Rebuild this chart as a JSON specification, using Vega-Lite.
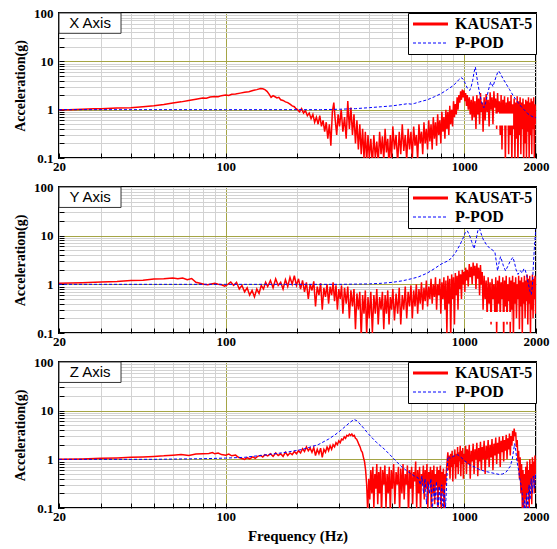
{
"$schema":"https://vega.github.io/schema/vega-lite/v6.json",
"background":"white",
"padding":{"left":12,"top":6,"right":6,"bottom":4},
"spacing":6,
"config":{
 "view":{"stroke":"black","strokeWidth":2},
 "axis":{"domain":false,"labelFont":"Liberation Serif, Times New Roman, serif","labelFontWeight":"bold","labelFontSize":13,"labelColor":"black","titleFont":"Liberation Serif, Times New Roman, serif","titleFontWeight":"bold","titleColor":"black","tickColor":"black","tickSize":-5,"gridWidth":1,"labelOverlap":false,"labelFlush":false},
 "axisX":{"labelPadding":7},
 "axisY":{"labelPadding":11,"titlePadding":6},
 "legend":{"orient":"top-right","offset":0,"fillColor":"white","strokeColor":"black","padding":3,"labelFont":"Liberation Serif, Times New Roman, serif","labelFontWeight":"bold","labelFontSize":16,"labelColor":"black","symbolType":"M-1,0H4.83","symbolSize":144,"symbolStrokeWidth":2,"labelOffset":28,"rowPadding":3}
},
"datasets":{
"xk":[{"f":20,"a":1.0},{"f":22,"a":1.0},{"f":25,"a":1.02},{"f":28,"a":1.04},{"f":30,"a":1.05},{"f":35,"a":1.08},{"f":40,"a":1.1},{"f":45,"a":1.15},{"f":50,"a":1.2},{"f":55,"a":1.28},{"f":60,"a":1.38},{"f":65,"a":1.45},{"f":70,"a":1.55},{"f":75,"a":1.65},{"f":80,"a":1.75},{"f":83,"a":1.72},{"f":86,"a":1.82},{"f":90,"a":1.88},{"f":93,"a":1.85},{"f":96,"a":1.95},{"f":100,"a":2.0},{"f":103,"a":1.97},{"f":106,"a":2.08},{"f":110,"a":2.1},{"f":115,"a":2.2},{"f":120,"a":2.3},{"f":125,"a":2.35},{"f":130,"a":2.5},{"f":135,"a":2.6},{"f":140,"a":2.75},{"f":143,"a":2.7},{"f":146,"a":2.6},{"f":149,"a":2.4},{"f":152,"a":2.1},{"f":155,"a":1.8},{"f":158,"a":1.95},{"f":161,"a":1.85},{"f":164,"a":1.75},{"f":167,"a":1.8},{"f":170,"a":1.6},{"f":174,"a":1.55},{"f":178,"a":1.45},{"f":182,"a":1.4},{"f":186,"a":1.3},{"f":190,"a":1.2},{"f":194,"a":1.15},{"f":197,"a":1.05},
{"f":200,"a":1.0},{"f":204,"a":0.9},{"f":208,"a":1.05},{"f":212,"a":0.85},{"f":216,"a":0.95},{"f":220,"a":0.75},{"f":224,"a":0.85},{"f":228,"a":0.65},{"f":232,"a":0.8},{"f":236,"a":0.55},{"f":240,"a":0.7},{"f":244,"a":0.5},{"f":248,"a":0.75},{"f":252,"a":0.45},{"f":256,"a":0.6},{"f":260,"a":0.35},{"f":264,"a":0.55},{"f":268,"a":0.25},{"f":272,"a":0.5},{"f":276,"a":0.18},{"f":280,"a":0.9},{"f":284,"a":1.4},{"f":288,"a":0.6},{"f":292,"a":0.3},{"f":296,"a":0.8},{"f":300,"a":0.45},{"f":305,"a":1.0},{"f":310,"a":0.35},{"f":315,"a":0.7},{"f":320,"a":0.25},{"f":325,"a":1.5},{"f":330,"a":0.4},{"f":335,"a":1.1},{"f":340,"a":0.3},{"f":345,"a":0.8},{"f":350,"a":0.2},{"f":355,"a":0.6},{"f":360,"a":0.15},{"f":365,"a":0.5},{"f":370,"a":0.12},{"f":375,"a":0.4},{"f":380,"a":0.1},{"f":385,"a":0.35},{"f":390,"a":0.08},{"f":395,"a":0.3},{"f":400,"a":0.1},{"f":406,"a":0.25},{"f":412,"a":0.07},{"f":418,"a":0.3},{"f":424,"a":0.1},{"f":430,"a":0.22},{"f":436,"a":0.08},{"f":442,"a":0.35},{"f":448,"a":0.12},{"f":454,"a":0.28},{"f":460,"a":0.09},{"f":466,"a":0.4},{"f":472,"a":0.13},{"f":478,"a":0.25},{"f":484,"a":0.07},{"f":490,"a":0.3},{"f":496,"a":0.1},{"f":502,"a":0.45},{"f":510,"a":0.15},{"f":518,"a":0.3},{"f":526,"a":0.08},{"f":534,"a":0.35},{"f":542,"a":0.12},{"f":550,"a":0.5},{"f":558,"a":0.14},{"f":566,"a":0.3},{"f":574,"a":0.09},{"f":582,"a":0.4},{"f":590,"a":0.15},{"f":598,"a":0.35},{"f":606,"a":0.1},{"f":614,"a":0.45},{"f":622,"a":0.18},{"f":630,"a":0.3},{"f":638,"a":0.09},{"f":646,"a":0.5},{"f":654,"a":0.2},{"f":662,"a":0.35},{"f":670,"a":0.12},{"f":678,"a":0.55},{"f":686,"a":0.2},{"f":694,"a":0.4},{"f":702,"a":0.15},{"f":710,"a":0.6},{"f":718,"a":0.22},{"f":726,"a":0.5},{"f":734,"a":0.15},{"f":742,"a":0.7},{"f":750,"a":0.25},{"f":758,"a":0.55},{"f":766,"a":0.18},{"f":774,"a":0.8},{"f":782,"a":0.3},{"f":790,"a":0.6},{"f":798,"a":0.2},{"f":806,"a":0.9},{"f":814,"a":0.35},{"f":822,"a":0.7},{"f":830,"a":0.25},{"f":838,"a":1.0},{"f":846,"a":0.4},{"f":854,"a":0.9},{"f":862,"a":0.3},{"f":870,"a":1.2},{"f":878,"a":0.5},{"f":886,"a":1.0},{"f":894,"a":0.45},{"f":902,"a":1.5},{"f":910,"a":0.7},{"f":918,"a":1.3},{"f":926,"a":0.8},{"f":934,"a":1.8},{"f":942,"a":1.0},{"f":950,"a":2.0},{"f":958,"a":1.4},{"f":966,"a":2.4},{"f":974,"a":1.6},{"f":982,"a":2.6},{"f":990,"a":1.8},{"f":998,"a":2.5},{"f":1006,"a":1.5},{"f":1014,"a":2.2},{"f":1022,"a":1.2},{"f":1030,"a":2.0},{"f":1040,"a":1.0},{"f":1050,"a":1.8},{"f":1060,"a":0.8},{"f":1070,"a":1.6},{"f":1080,"a":0.6},{"f":1090,"a":1.9},{"f":1100,"a":0.7},{"f":1110,"a":1.5},{"f":1120,"a":0.4},{"f":1130,"a":2.0},{"f":1140,"a":0.8},{"f":1150,"a":1.7},{"f":1160,"a":0.5},{"f":1170,"a":2.2},{"f":1180,"a":0.9},{"f":1190,"a":1.4},{"f":1200,"a":0.35},{"f":1212,"a":1.8},{"f":1224,"a":0.6},{"f":1236,"a":2.1},{"f":1248,"a":0.9},{"f":1260,"a":1.6},{"f":1272,"a":0.45},{"f":1284,"a":2.3},{"f":1296,"a":1.0},{"f":1308,"a":1.8},{"f":1320,"a":0.5},{"f":1332,"a":2.4},{"f":1344,"a":1.1},{"f":1356,"a":1.7},{"f":1368,"a":0.4},{"f":1380,"a":2.2},{"f":1392,"a":0.9},{"f":1404,"a":1.5},{"f":1416,"a":0.3},{"f":1428,"a":2.0},{"f":1440,"a":0.15},{"f":1452,"a":1.6},{"f":1464,"a":0.6},{"f":1476,"a":1.9},{"f":1488,"a":0.08},{"f":1500,"a":1.4},{"f":1512,"a":0.5},{"f":1524,"a":1.8},{"f":1536,"a":0.12},{"f":1548,"a":1.5},{"f":1560,"a":0.3},{"f":1572,"a":2.0},{"f":1584,"a":0.08},{"f":1596,"a":1.3},{"f":1608,"a":0.4},{"f":1620,"a":1.7},{"f":1632,"a":0.1},{"f":1644,"a":1.4},{"f":1656,"a":0.25},{"f":1668,"a":1.9},{"f":1680,"a":0.07},{"f":1692,"a":1.5},{"f":1704,"a":0.3},{"f":1716,"a":1.8},{"f":1728,"a":0.12},{"f":1740,"a":1.4},{"f":1752,"a":0.4},{"f":1764,"a":1.7},{"f":1776,"a":0.08},{"f":1788,"a":1.3},{"f":1800,"a":0.2},{"f":1812,"a":1.6},{"f":1824,"a":0.1},{"f":1836,"a":1.5},{"f":1848,"a":0.35},{"f":1860,"a":1.8},{"f":1872,"a":0.09},{"f":1884,"a":1.4},{"f":1896,"a":0.3},{"f":1908,"a":1.7},{"f":1920,"a":0.12},{"f":1932,"a":1.5},{"f":1944,"a":0.4},{"f":1956,"a":1.8},{"f":1968,"a":0.1},{"f":1980,"a":1.3},{"f":1992,"a":0.5},{"f":2000,"a":1.2}],
"xp":[{"f":20,"a":1.0},{"f":50,"a":1.0},{"f":100,"a":1.0},{"f":150,"a":1.0},{"f":200,"a":1.0},{"f":250,"a":1.0},{"f":300,"a":1.02},{"f":350,"a":1.05},{"f":400,"a":1.1},{"f":450,"a":1.15},{"f":500,"a":1.2},{"f":550,"a":1.28},{"f":580,"a":1.33},{"f":600,"a":1.3},{"f":620,"a":1.35},{"f":650,"a":1.45},{"f":700,"a":1.6},{"f":750,"a":1.85},{"f":800,"a":2.15},{"f":850,"a":2.6},{"f":900,"a":3.16},{"f":930,"a":3.7},{"f":950,"a":4.2},{"f":970,"a":4.6},{"f":990,"a":4.3},{"f":1010,"a":3.5},{"f":1030,"a":2.8},{"f":1055,"a":2.5},{"f":1070,"a":3.0},{"f":1085,"a":4.0},{"f":1100,"a":6.0},{"f":1114,"a":7.6},{"f":1125,"a":5.5},{"f":1140,"a":3.5},{"f":1160,"a":2.2},{"f":1180,"a":1.5},{"f":1200,"a":1.15},{"f":1211,"a":1.1},{"f":1230,"a":1.4},{"f":1250,"a":2.0},{"f":1270,"a":2.8},{"f":1290,"a":3.7},{"f":1300,"a":3.5},{"f":1320,"a":3.0},{"f":1340,"a":3.8},{"f":1360,"a":4.8},{"f":1380,"a":5.8},{"f":1396,"a":6.3},{"f":1420,"a":5.5},{"f":1450,"a":4.5},{"f":1500,"a":3.4},{"f":1550,"a":2.6},{"f":1600,"a":2.0},{"f":1650,"a":1.6},{"f":1700,"a":1.3},{"f":1750,"a":1.1},{"f":1800,"a":0.95},{"f":1850,"a":0.82},{"f":1900,"a":0.75},{"f":1950,"a":0.7},{"f":2000,"a":0.68}],
"yk":[{"f":20,"a":1.05},{"f":25,"a":1.08},{"f":30,"a":1.12},{"f":35,"a":1.15},{"f":40,"a":1.2},{"f":45,"a":1.22},{"f":50,"a":1.28},{"f":55,"a":1.3},{"f":60,"a":1.35},{"f":63,"a":1.3},{"f":66,"a":1.35},{"f":69,"a":1.25},{"f":72,"a":1.32},{"f":75,"a":1.1},{"f":78,"a":1.05},{"f":81,"a":1.0},{"f":84,"a":0.98},{"f":87,"a":1.02},{"f":90,"a":1.05},{"f":93,"a":1.0},{"f":96,"a":0.98},{"f":99,"a":0.92},{"f":102,"a":1.0},{"f":105,"a":1.12},{"f":108,"a":0.95},{"f":111,"a":1.1},{"f":114,"a":0.8},{"f":117,"a":0.95},{"f":120,"a":0.7},{"f":123,"a":0.85},{"f":126,"a":0.6},{"f":129,"a":0.75},{"f":132,"a":0.55},{"f":135,"a":0.8},{"f":138,"a":0.65},{"f":141,"a":0.95},{"f":144,"a":0.8},{"f":147,"a":1.1},
{"f":150,"a":0.9},{"f":154,"a":1.2},{"f":158,"a":0.85},{"f":162,"a":1.3},{"f":166,"a":0.95},{"f":170,"a":1.1},{"f":174,"a":0.8},{"f":178,"a":1.25},{"f":182,"a":0.9},{"f":186,"a":1.4},{"f":190,"a":1.0},{"f":194,"a":1.5},{"f":198,"a":0.95},{"f":202,"a":1.3},{"f":206,"a":0.8},{"f":210,"a":1.2},{"f":214,"a":0.7},{"f":218,"a":1.1},{"f":222,"a":0.5},{"f":226,"a":1.0},{"f":230,"a":0.75},{"f":234,"a":1.15},{"f":238,"a":0.35},{"f":242,"a":0.9},{"f":246,"a":0.6},{"f":250,"a":1.05},{"f":254,"a":0.3},{"f":258,"a":0.85},{"f":262,"a":0.55},{"f":266,"a":1.0},{"f":270,"a":0.4},{"f":274,"a":0.9},{"f":278,"a":0.6},{"f":282,"a":1.1},{"f":286,"a":0.45},{"f":290,"a":0.95},{"f":294,"a":0.3},{"f":298,"a":0.8},{"f":302,"a":0.5},{"f":306,"a":0.95},{"f":310,"a":0.25},{"f":315,"a":0.85},{"f":320,"a":0.4},{"f":325,"a":0.9},{"f":330,"a":0.2},{"f":335,"a":0.75},{"f":340,"a":0.35},{"f":345,"a":0.8},{"f":350,"a":0.12},{"f":355,"a":0.65},{"f":360,"a":0.3},{"f":365,"a":0.7},{"f":370,"a":0.08},{"f":375,"a":0.6},{"f":380,"a":0.25},{"f":385,"a":0.75},{"f":390,"a":0.09},{"f":395,"a":0.55},{"f":400,"a":0.2},{"f":406,"a":0.7},{"f":412,"a":0.1},{"f":418,"a":0.6},{"f":424,"a":0.25},{"f":430,"a":0.8},{"f":436,"a":0.15},{"f":442,"a":0.55},{"f":448,"a":0.3},{"f":454,"a":0.7},{"f":460,"a":0.12},{"f":466,"a":0.6},{"f":472,"a":0.25},{"f":478,"a":0.75},{"f":484,"a":0.15},{"f":490,"a":0.55},{"f":496,"a":0.3},{"f":502,"a":0.8},{"f":510,"a":0.18},{"f":518,"a":0.65},{"f":526,"a":0.25},{"f":534,"a":0.85},{"f":542,"a":0.15},{"f":550,"a":0.6},{"f":558,"a":0.3},{"f":566,"a":0.9},{"f":574,"a":0.2},{"f":582,"a":0.7},{"f":590,"a":0.35},{"f":598,"a":0.95},{"f":606,"a":0.2},{"f":614,"a":0.75},{"f":622,"a":0.35},{"f":630,"a":1.0},{"f":638,"a":0.25},{"f":646,"a":0.8},{"f":654,"a":0.4},{"f":662,"a":1.1},{"f":670,"a":0.3},{"f":678,"a":0.85},{"f":686,"a":0.45},{"f":694,"a":1.2},{"f":702,"a":0.35},{"f":710,"a":0.9},{"f":718,"a":0.5},{"f":726,"a":1.3},{"f":734,"a":0.4},{"f":742,"a":1.0},{"f":750,"a":0.55},{"f":758,"a":1.4},{"f":766,"a":0.3},{"f":774,"a":1.0},{"f":782,"a":0.6},{"f":790,"a":1.3},{"f":798,"a":0.25},{"f":806,"a":1.1},{"f":814,"a":0.5},{"f":822,"a":1.4},{"f":830,"a":0.3},{"f":838,"a":1.2},{"f":846,"a":0.1},{"f":854,"a":1.5},{"f":862,"a":0.4},{"f":870,"a":1.3},{"f":878,"a":0.08},{"f":886,"a":1.6},{"f":894,"a":0.5},{"f":902,"a":1.4},{"f":910,"a":0.15},{"f":918,"a":1.7},{"f":926,"a":0.6},{"f":934,"a":1.5},{"f":942,"a":0.3},{"f":950,"a":1.9},{"f":958,"a":0.8},{"f":966,"a":1.6},{"f":974,"a":0.5},{"f":982,"a":2.0},{"f":990,"a":1.0},{"f":998,"a":1.8},{"f":1006,"a":0.7},{"f":1014,"a":2.2},{"f":1022,"a":1.2},{"f":1030,"a":2.0},{"f":1040,"a":0.9},{"f":1050,"a":2.6},{"f":1060,"a":1.4},{"f":1070,"a":2.3},{"f":1080,"a":1.0},{"f":1090,"a":2.8},{"f":1100,"a":1.5},{"f":1110,"a":2.4},{"f":1120,"a":0.8},{"f":1130,"a":2.7},{"f":1140,"a":1.3},{"f":1150,"a":2.2},{"f":1160,"a":0.6},{"f":1170,"a":2.5},{"f":1180,"a":1.0},{"f":1190,"a":1.8},{"f":1200,"a":0.3},{"f":1212,"a":1.5},{"f":1224,"a":0.5},{"f":1236,"a":1.2},{"f":1248,"a":0.2},{"f":1260,"a":1.4},{"f":1272,"a":0.4},{"f":1284,"a":1.1},{"f":1296,"a":0.15},{"f":1308,"a":1.3},{"f":1320,"a":0.5},{"f":1332,"a":1.0},{"f":1344,"a":0.25},{"f":1356,"a":1.4},{"f":1368,"a":0.1},{"f":1380,"a":1.2},{"f":1392,"a":0.4},{"f":1404,"a":1.5},{"f":1416,"a":0.2},{"f":1428,"a":1.1},{"f":1440,"a":0.5},{"f":1452,"a":1.4},{"f":1464,"a":0.08},{"f":1476,"a":1.2},{"f":1488,"a":0.35},{"f":1500,"a":1.5},{"f":1512,"a":0.15},{"f":1524,"a":1.0},{"f":1536,"a":0.45},{"f":1548,"a":1.4},{"f":1560,"a":0.1},{"f":1572,"a":1.2},{"f":1584,"a":0.3},{"f":1596,"a":1.5},{"f":1608,"a":0.08},{"f":1620,"a":1.1},{"f":1632,"a":0.4},{"f":1644,"a":1.4},{"f":1656,"a":0.2},{"f":1668,"a":1.0},{"f":1680,"a":0.5},{"f":1692,"a":1.5},{"f":1704,"a":0.12},{"f":1716,"a":1.2},{"f":1728,"a":0.35},{"f":1740,"a":1.4},{"f":1752,"a":0.09},{"f":1764,"a":1.1},{"f":1776,"a":0.4},{"f":1788,"a":1.5},{"f":1800,"a":0.2},{"f":1812,"a":1.2},{"f":1824,"a":0.45},{"f":1836,"a":1.6},{"f":1848,"a":0.15},{"f":1860,"a":1.3},{"f":1872,"a":0.4},{"f":1884,"a":1.5},{"f":1896,"a":0.1},{"f":1908,"a":1.2},{"f":1920,"a":0.3},{"f":1932,"a":1.6},{"f":1944,"a":0.2},{"f":1956,"a":1.3},{"f":1968,"a":0.5},{"f":1980,"a":1.5},{"f":1992,"a":0.25},{"f":2000,"a":1.4}],
"yp":[{"f":20,"a":1.0},{"f":100,"a":1.0},{"f":200,"a":1.0},{"f":300,"a":1.0},{"f":400,"a":1.02},{"f":450,"a":1.05},{"f":500,"a":1.1},{"f":550,"a":1.18},{"f":600,"a":1.3},{"f":640,"a":1.41},{"f":700,"a":1.7},{"f":750,"a":2.1},{"f":800,"a":2.6},{"f":850,"a":3.0},{"f":881,"a":3.4},{"f":920,"a":4.5},{"f":960,"a":6.5},{"f":990,"a":9.0},{"f":1010,"a":11.5},{"f":1030,"a":12.6},{"f":1050,"a":10.5},{"f":1075,"a":7.5},{"f":1100,"a":5.4},{"f":1120,"a":8.0},{"f":1140,"a":12.5},{"f":1154,"a":16},{"f":1170,"a":12},{"f":1200,"a":8.5},{"f":1240,"a":6.5},{"f":1280,"a":5.5},{"f":1320,"a":5.0},{"f":1345,"a":4.6},{"f":1365,"a":2.8},{"f":1380,"a":1.9},{"f":1400,"a":2.8},{"f":1420,"a":3.7},{"f":1440,"a":3.0},{"f":1460,"a":2.4},{"f":1490,"a":1.9},{"f":1520,"a":2.3},{"f":1560,"a":3.0},{"f":1600,"a":3.6},{"f":1625,"a":2.8},{"f":1650,"a":2.0},{"f":1680,"a":1.6},{"f":1720,"a":1.9},{"f":1750,"a":1.7},{"f":1780,"a":2.1},{"f":1800,"a":2.0},{"f":1830,"a":1.5},{"f":1860,"a":1.0},{"f":1890,"a":0.7},{"f":1910,"a":0.62},{"f":1930,"a":0.9},{"f":1950,"a":2.5},{"f":1970,"a":6.0},{"f":1990,"a":11},{"f":2000,"a":14}],
"zk":[{"f":20,"a":1.0},{"f":25,"a":1.02},{"f":30,"a":1.05},{"f":35,"a":1.07},{"f":40,"a":1.1},{"f":45,"a":1.12},{"f":50,"a":1.15},{"f":55,"a":1.18},{"f":60,"a":1.22},{"f":65,"a":1.25},{"f":70,"a":1.2},{"f":75,"a":1.28},{"f":80,"a":1.3},{"f":85,"a":1.32},{"f":88,"a":1.38},{"f":90,"a":1.3},{"f":93,"a":1.35},{"f":96,"a":1.25},{"f":100,"a":1.22},{"f":103,"a":1.28},{"f":106,"a":1.18},{"f":110,"a":1.22},{"f":113,"a":1.1},{"f":116,"a":1.05},{"f":120,"a":1.0},{"f":123,"a":1.08},{"f":126,"a":1.02},{"f":130,"a":1.12},{"f":133,"a":1.05},{"f":136,"a":1.15},{"f":140,"a":1.2},{"f":143,"a":1.12},{"f":146,"a":1.25},
{"f":150,"a":1.18},{"f":154,"a":1.3},{"f":158,"a":1.15},{"f":162,"a":1.35},{"f":166,"a":1.2},{"f":170,"a":1.3},{"f":174,"a":1.15},{"f":178,"a":1.4},{"f":182,"a":1.2},{"f":186,"a":1.35},{"f":190,"a":1.25},{"f":194,"a":1.45},{"f":198,"a":1.3},{"f":202,"a":1.5},{"f":206,"a":1.35},{"f":210,"a":1.65},{"f":214,"a":1.45},{"f":218,"a":1.8},{"f":222,"a":1.5},{"f":226,"a":1.7},{"f":230,"a":1.4},{"f":234,"a":1.75},{"f":238,"a":1.2},{"f":242,"a":1.6},{"f":246,"a":1.3},{"f":250,"a":1.7},{"f":254,"a":1.1},{"f":258,"a":1.6},{"f":262,"a":1.4},{"f":266,"a":1.8},{"f":270,"a":1.5},{"f":274,"a":1.9},{"f":278,"a":1.6},{"f":282,"a":2.0},{"f":286,"a":1.8},{"f":290,"a":2.2},{"f":294,"a":2.0},{"f":298,"a":2.4},{"f":302,"a":2.2},{"f":306,"a":2.6},{"f":310,"a":2.5},{"f":314,"a":2.9},{"f":318,"a":2.7},{"f":322,"a":3.1},{"f":326,"a":3.0},{"f":330,"a":3.3},{"f":334,"a":3.1},{"f":338,"a":3.3},{"f":342,"a":3.0},{"f":346,"a":3.1},{"f":350,"a":2.7},{"f":354,"a":2.6},{"f":358,"a":2.3},{"f":362,"a":2.0},{"f":366,"a":1.8},{"f":370,"a":1.5},{"f":374,"a":1.4},{"f":378,"a":1.1},{"f":382,"a":0.9},{"f":386,"a":0.6},{"f":390,"a":0.3},{"f":394,"a":0.08},{"f":398,"a":0.4},{"f":402,"a":0.15},{"f":406,"a":0.6},{"f":410,"a":0.2},{"f":414,"a":0.7},{"f":418,"a":0.1},{"f":422,"a":0.5},{"f":426,"a":0.25},{"f":430,"a":0.8},{"f":434,"a":0.12},{"f":438,"a":0.55},{"f":442,"a":0.2},{"f":446,"a":0.7},{"f":450,"a":0.07},{"f":455,"a":0.6},{"f":460,"a":0.3},{"f":465,"a":0.75},{"f":470,"a":0.1},{"f":475,"a":0.5},{"f":480,"a":0.2},{"f":485,"a":0.7},{"f":490,"a":0.08},{"f":495,"a":0.6},{"f":500,"a":0.25},{"f":506,"a":0.8},{"f":512,"a":0.12},{"f":518,"a":0.55},{"f":524,"a":0.3},{"f":530,"a":0.7},{"f":536,"a":0.09},{"f":542,"a":0.65},{"f":548,"a":0.2},{"f":554,"a":0.8},{"f":560,"a":0.15},{"f":566,"a":0.5},{"f":572,"a":0.3},{"f":578,"a":0.75},{"f":584,"a":0.07},{"f":590,"a":0.6},{"f":596,"a":0.25},{"f":602,"a":0.7},{"f":608,"a":0.12},{"f":614,"a":0.55},{"f":620,"a":0.35},{"f":626,"a":0.9},{"f":632,"a":0.1},{"f":638,"a":0.6},{"f":644,"a":0.2},{"f":650,"a":0.7},{"f":656,"a":0.08},{"f":662,"a":0.5},{"f":668,"a":0.3},{"f":674,"a":0.75},{"f":680,"a":0.15},{"f":686,"a":0.6},{"f":692,"a":0.25},{"f":698,"a":0.8},{"f":704,"a":0.1},{"f":710,"a":0.55},{"f":716,"a":0.3},{"f":722,"a":0.7},{"f":728,"a":0.07},{"f":734,"a":0.6},{"f":740,"a":0.2},{"f":746,"a":0.75},{"f":752,"a":0.12},{"f":758,"a":0.5},{"f":764,"a":0.3},{"f":770,"a":0.7},{"f":776,"a":0.08},{"f":782,"a":0.6},{"f":788,"a":0.25},{"f":794,"a":0.75},{"f":800,"a":0.1},{"f":806,"a":0.55},{"f":812,"a":0.2},{"f":818,"a":0.65},{"f":824,"a":0.07},{"f":830,"a":0.5},{"f":836,"a":0.3},{"f":842,"a":0.6},{"f":848,"a":0.9},{"f":854,"a":1.4},{"f":860,"a":0.6},{"f":866,"a":1.2},{"f":872,"a":0.4},{"f":878,"a":1.3},{"f":884,"a":0.7},{"f":890,"a":1.5},{"f":896,"a":0.35},{"f":902,"a":1.2},{"f":908,"a":0.8},{"f":914,"a":1.6},{"f":920,"a":0.4},{"f":926,"a":1.3},{"f":932,"a":0.7},{"f":938,"a":1.8},{"f":944,"a":0.5},{"f":950,"a":1.4},{"f":956,"a":0.9},{"f":962,"a":1.9},{"f":968,"a":0.45},{"f":974,"a":1.5},{"f":980,"a":0.8},{"f":986,"a":1.7},{"f":992,"a":0.4},{"f":998,"a":1.3},{"f":1006,"a":0.9},{"f":1014,"a":1.9},{"f":1022,"a":0.5},{"f":1030,"a":1.6},{"f":1040,"a":0.8},{"f":1050,"a":2.0},{"f":1060,"a":0.4},{"f":1070,"a":1.5},{"f":1080,"a":0.9},{"f":1090,"a":2.1},{"f":1100,"a":0.5},{"f":1110,"a":1.6},{"f":1120,"a":1.0},{"f":1130,"a":2.2},{"f":1140,"a":0.45},{"f":1150,"a":1.7},{"f":1160,"a":0.9},{"f":1170,"a":2.3},{"f":1180,"a":0.6},{"f":1190,"a":1.8},{"f":1200,"a":1.0},{"f":1212,"a":2.4},{"f":1224,"a":0.5},{"f":1236,"a":1.9},{"f":1248,"a":1.0},{"f":1260,"a":2.5},{"f":1272,"a":0.7},{"f":1284,"a":2.0},{"f":1296,"a":1.1},{"f":1308,"a":2.6},{"f":1320,"a":0.6},{"f":1332,"a":2.1},{"f":1344,"a":1.2},{"f":1356,"a":2.8},{"f":1368,"a":0.8},{"f":1380,"a":2.2},{"f":1392,"a":1.3},{"f":1404,"a":2.9},{"f":1416,"a":0.7},{"f":1428,"a":2.4},{"f":1440,"a":1.4},{"f":1452,"a":3.0},{"f":1464,"a":0.9},{"f":1476,"a":2.5},{"f":1488,"a":1.5},{"f":1500,"a":3.2},{"f":1512,"a":1.0},{"f":1524,"a":2.7},{"f":1536,"a":1.6},{"f":1548,"a":3.4},{"f":1560,"a":1.2},{"f":1572,"a":3.0},{"f":1584,"a":1.9},{"f":1596,"a":3.8},{"f":1608,"a":2.4},{"f":1620,"a":4.3},{"f":1632,"a":3.0},{"f":1644,"a":3.6},{"f":1656,"a":1.8},{"f":1668,"a":2.5},{"f":1680,"a":0.9},{"f":1692,"a":1.5},{"f":1704,"a":0.4},{"f":1716,"a":1.1},{"f":1728,"a":0.2},{"f":1740,"a":0.8},{"f":1752,"a":0.1},{"f":1764,"a":0.6},{"f":1776,"a":0.07},{"f":1788,"a":0.5},{"f":1800,"a":0.15},{"f":1812,"a":0.7},{"f":1824,"a":0.1},{"f":1836,"a":0.9},{"f":1848,"a":0.2},{"f":1860,"a":0.6},{"f":1872,"a":0.08},{"f":1884,"a":1.0},{"f":1896,"a":0.3},{"f":1908,"a":0.8},{"f":1920,"a":0.12},{"f":1932,"a":1.1},{"f":1944,"a":0.4},{"f":1956,"a":0.9},{"f":1968,"a":0.2},{"f":1980,"a":1.2},{"f":1992,"a":0.5},{"f":2000,"a":1.0}],
"zp":[{"f":20,"a":1.0},{"f":50,"a":1.0},{"f":80,"a":1.03},{"f":100,"a":1.06},{"f":120,"a":1.1},{"f":150,"a":1.25},{"f":180,"a":1.4},{"f":210,"a":1.6},{"f":244,"a":2.0},{"f":270,"a":2.6},{"f":290,"a":3.3},{"f":310,"a":4.3},{"f":330,"a":5.6},{"f":345,"a":6.6},{"f":355,"a":6.2},{"f":370,"a":5.0},{"f":380,"a":4.3},{"f":395,"a":3.4},{"f":410,"a":2.8},{"f":430,"a":2.2},{"f":464,"a":1.6},{"f":500,"a":1.1},{"f":520,"a":0.9},{"f":544,"a":0.72},{"f":570,"a":0.6},{"f":600,"a":0.5},{"f":620,"a":0.45},{"f":640,"a":0.42},{"f":655,"a":0.3},{"f":665,"a":0.45},{"f":675,"a":0.2},{"f":685,"a":0.4},{"f":695,"a":0.12},{"f":705,"a":0.35},{"f":715,"a":0.2},{"f":725,"a":0.4},{"f":735,"a":0.08},{"f":745,"a":0.3},{"f":755,"a":0.15},{"f":765,"a":0.35},{"f":775,"a":0.06},{"f":785,"a":0.28},{"f":795,"a":0.12},{"f":805,"a":0.3},{"f":815,"a":0.08},{"f":825,"a":0.25},{"f":835,"a":0.1},{"f":845,"a":0.35},{"f":850,"a":0.7},{"f":855,"a":1.15},{"f":870,"a":1.05},{"f":900,"a":1.15},{"f":940,"a":1.25},{"f":970,"a":1.1},{"f":1000,"a":0.95},{"f":1050,"a":0.78},{"f":1100,"a":0.7},{"f":1150,"a":0.63},{"f":1219,"a":0.57},{"f":1300,"a":0.53},{"f":1400,"a":0.49},{"f":1450,"a":0.5},{"f":1500,"a":0.55},{"f":1560,"a":0.72},{"f":1590,"a":1.0},{"f":1610,"a":1.5},{"f":1628,"a":2.1},{"f":1645,"a":1.5},{"f":1665,"a":0.9},{"f":1690,"a":0.6},{"f":1710,"a":0.4},{"f":1730,"a":0.3},{"f":1750,"a":0.2},{"f":1765,"a":0.12},{"f":1780,"a":0.08},{"f":1795,"a":0.15},{"f":1810,"a":0.07},{"f":1830,"a":0.2},{"f":1850,"a":0.1},{"f":1870,"a":0.3},{"f":1890,"a":0.15},{"f":1910,"a":0.4},{"f":1930,"a":0.2},{"f":1950,"a":0.45},{"f":1970,"a":0.25},{"f":1990,"a":0.5},{"f":2000,"a":0.4}]
},
"resolve":{"scale":{"color":"independent"},"legend":{"color":"independent"}},
"vconcat":[
{"width":477,"height":145,"layer":[
 {"data":{"name":"xk"},"mark":{"type":"line","clip":true,"strokeWidth":1.5},"encoding":{
  "x":{"field":"f","type":"quantitative","scale":{"type":"log","domain":[20,2000],"nice":false},"axis":{"title":null,"values":[20,30,40,50,60,70,80,90,100,200,300,400,500,600,700,800,900,1000,2000],"format":"d","labelExpr":"datum.value==20||datum.value==100||datum.value==1000||datum.value==2000?datum.label:''","gridColor":{"condition":{"test":"datum.value==100||datum.value==1000","value":"#a5a545"},"value":"#d2d2d2"}}},
  "y":{"field":"a","type":"quantitative","scale":{"type":"log","domain":[0.1,100],"nice":false},"axis":{"title":"Acceleration(g)","titleFontSize":14,"values":[0.1,0.2,0.3,0.4,0.5,0.6,0.7,0.8,0.9,1,2,3,4,5,6,7,8,9,10,20,30,40,50,60,70,80,90,100],"format":"~g","labelExpr":"datum.value==0.1||datum.value==1||datum.value==10||datum.value==100?datum.label:''","gridColor":{"condition":{"test":"datum.value==1||datum.value==10","value":"#a5a545"},"value":"#d2d2d2"}}},
  "color":{"datum":"KAUSAT-5","type":"nominal","scale":{"domain":["KAUSAT-5","P-POD"],"range":["#ff0000","#0000ff"]},"legend":{"title":null,"encode":{"symbols":{"update":{"strokeDash":{"signal":"datum.value==='P-POD'?[3,2]:[1,0]"},"strokeWidth":{"signal":"datum.value==='P-POD'?1:3"}}}}}}}},
 {"data":{"name":"xp"},"mark":{"type":"line","clip":true,"strokeWidth":1,"strokeDash":[3,2]},"encoding":{"x":{"field":"f","type":"quantitative"},"y":{"field":"a","type":"quantitative"},"color":{"datum":"P-POD","type":"nominal"}}},
 {"data":{"values":[{"f1":1342,"f2":1603,"a1":0.47,"a2":0.83}]},"mark":{"type":"rect","fill":"white"},"encoding":{"x":{"field":"f1","type":"quantitative"},"x2":{"field":"f2"},"y":{"field":"a1","type":"quantitative"},"y2":{"field":"a2"}}},
 {"data":{"values":[{"t":"X Axis"}]},"mark":{"type":"rect","fill":"white","stroke":"#333333","strokeWidth":1},"encoding":{"x":{"datum":20,"type":"quantitative"},"x2":{"datum":36.4},"y":{"datum":100,"type":"quantitative"},"y2":{"datum":38}}},
 {"data":{"values":[{"t":"X Axis"}]},"mark":{"type":"text","font":"Liberation Sans","fontSize":15,"color":"black","align":"center","baseline":"middle"},"encoding":{"x":{"datum":27,"type":"quantitative"},"y":{"datum":62,"type":"quantitative"},"text":{"field":"t"}}}
]},
{"width":477,"height":146,"layer":[
 {"data":{"name":"yk"},"mark":{"type":"line","clip":true,"strokeWidth":1.5},"encoding":{
  "x":{"field":"f","type":"quantitative","scale":{"type":"log","domain":[20,2000],"nice":false},"axis":{"title":null,"values":[20,30,40,50,60,70,80,90,100,200,300,400,500,600,700,800,900,1000,2000],"format":"d","labelExpr":"datum.value==20||datum.value==100||datum.value==1000||datum.value==2000?datum.label:''","gridColor":{"condition":{"test":"datum.value==100||datum.value==1000","value":"#a5a545"},"value":"#d2d2d2"}}},
  "y":{"field":"a","type":"quantitative","scale":{"type":"log","domain":[0.1,100],"nice":false},"axis":{"title":"Acceleration(g)","titleFontSize":14,"values":[0.1,0.2,0.3,0.4,0.5,0.6,0.7,0.8,0.9,1,2,3,4,5,6,7,8,9,10,20,30,40,50,60,70,80,90,100],"format":"~g","labelExpr":"datum.value==0.1||datum.value==1||datum.value==10||datum.value==100?datum.label:''","gridColor":{"condition":{"test":"datum.value==1||datum.value==10","value":"#a5a545"},"value":"#d2d2d2"}}},
  "color":{"datum":"KAUSAT-5","type":"nominal","scale":{"domain":["KAUSAT-5","P-POD"],"range":["#ff0000","#0000ff"]},"legend":{"title":null,"encode":{"symbols":{"update":{"strokeDash":{"signal":"datum.value==='P-POD'?[3,2]:[1,0]"},"strokeWidth":{"signal":"datum.value==='P-POD'?1:3"}}}}}}}},
 {"data":{"name":"yp"},"mark":{"type":"line","clip":true,"strokeWidth":1,"strokeDash":[3,2]},"encoding":{"x":{"field":"f","type":"quantitative"},"y":{"field":"a","type":"quantitative"},"color":{"datum":"P-POD","type":"nominal"}}},
 {"data":{"values":[{"f1":1199,"f2":1571,"a1":0.17,"a2":0.27}]},"mark":{"type":"rect","fill":"white"},"encoding":{"x":{"field":"f1","type":"quantitative"},"x2":{"field":"f2"},"y":{"field":"a1","type":"quantitative"},"y2":{"field":"a2"}}},
 {"data":{"values":[{"t":"Y Axis"}]},"mark":{"type":"rect","fill":"white","stroke":"#333333","strokeWidth":1},"encoding":{"x":{"datum":20,"type":"quantitative"},"x2":{"datum":36.4},"y":{"datum":100,"type":"quantitative"},"y2":{"datum":38}}},
 {"data":{"values":[{"t":"Y Axis"}]},"mark":{"type":"text","font":"Liberation Sans","fontSize":15,"color":"black","align":"center","baseline":"middle"},"encoding":{"x":{"datum":27,"type":"quantitative"},"y":{"datum":62,"type":"quantitative"},"text":{"field":"t"}}}
]},
{"width":477,"height":146,"layer":[
 {"data":{"name":"zk"},"mark":{"type":"line","clip":true,"strokeWidth":1.5},"encoding":{
  "x":{"field":"f","type":"quantitative","scale":{"type":"log","domain":[20,2000],"nice":false},"axis":{"title":"Frequency (Hz)","titleFontSize":15,"titlePadding":5,"values":[20,30,40,50,60,70,80,90,100,200,300,400,500,600,700,800,900,1000,2000],"format":"d","labelExpr":"datum.value==20||datum.value==100||datum.value==1000||datum.value==2000?datum.label:''","gridColor":{"condition":{"test":"datum.value==100||datum.value==1000","value":"#a5a545"},"value":"#d2d2d2"}}},
  "y":{"field":"a","type":"quantitative","scale":{"type":"log","domain":[0.1,100],"nice":false},"axis":{"title":"Acceleration(g)","titleFontSize":14,"values":[0.1,0.2,0.3,0.4,0.5,0.6,0.7,0.8,0.9,1,2,3,4,5,6,7,8,9,10,20,30,40,50,60,70,80,90,100],"format":"~g","labelExpr":"datum.value==0.1||datum.value==1||datum.value==10||datum.value==100?datum.label:''","gridColor":{"condition":{"test":"datum.value==1||datum.value==10","value":"#a5a545"},"value":"#d2d2d2"}}},
  "color":{"datum":"KAUSAT-5","type":"nominal","scale":{"domain":["KAUSAT-5","P-POD"],"range":["#ff0000","#0000ff"]},"legend":{"title":null,"encode":{"symbols":{"update":{"strokeDash":{"signal":"datum.value==='P-POD'?[3,2]:[1,0]"},"strokeWidth":{"signal":"datum.value==='P-POD'?1:3"}}}}}}}},
 {"data":{"name":"zp"},"mark":{"type":"line","clip":true,"strokeWidth":1,"strokeDash":[3,2]},"encoding":{"x":{"field":"f","type":"quantitative"},"y":{"field":"a","type":"quantitative"},"color":{"datum":"P-POD","type":"nominal"}}},
 {"data":{"values":[{"t":"Z Axis"}]},"mark":{"type":"rect","fill":"white","stroke":"#333333","strokeWidth":1},"encoding":{"x":{"datum":20,"type":"quantitative"},"x2":{"datum":36.4},"y":{"datum":100,"type":"quantitative"},"y2":{"datum":38}}},
 {"data":{"values":[{"t":"Z Axis"}]},"mark":{"type":"text","font":"Liberation Sans","fontSize":15,"color":"black","align":"center","baseline":"middle"},"encoding":{"x":{"datum":27,"type":"quantitative"},"y":{"datum":62,"type":"quantitative"},"text":{"field":"t"}}}
]}
]
}
